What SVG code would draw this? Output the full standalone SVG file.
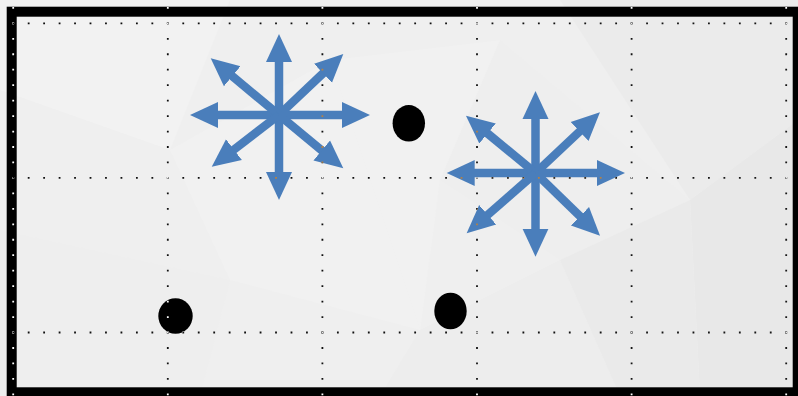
<svg xmlns="http://www.w3.org/2000/svg" width="798" height="396" viewBox="0 0 798 396">
  <defs>
    <style>
      .arrow { stroke: #4a7ebb; stroke-width: 8.5; fill: none; marker-end: url(#head); }
      .dot { fill: #000; }
      .grid { stroke: #fff; stroke-width: 1.8; fill: none; mix-blend-mode: difference; }
      .gh { stroke-dasharray: 1.8 13.66; }
      .bg { stroke: none; }
    </style>
    <marker id="head" markerUnits="userSpaceOnUse" markerWidth="30" markerHeight="28" viewBox="0 -14 30 28" refX="8" refY="0" orient="auto">
      <path d="M0,-13 L28,0 L0,13 Z" fill="#4a7ebb"/>
    </marker>
  </defs>

  <!-- background -->
  <g id="background">
    <rect class="bg" x="0" y="0" width="798" height="396" fill="#efefef"/>
    <polygon class="bg" points="0,0 230,0 170,150 0,90" fill="#f2f2f2"/>
    <polygon class="bg" points="170,150 330,60 420,330 230,280" fill="#f1f1f1"/>
    <polygon class="bg" points="0,230 230,280 200,396 0,396" fill="#eeeeee"/>
    <polygon class="bg" points="420,330 560,260 620,396 380,396" fill="#ededed"/>
    <polygon class="bg" points="560,0 798,0 798,120 690,200" fill="#ebebeb"/>
    <polygon class="bg" points="690,200 798,120 798,396 700,396" fill="#e8e8e8"/>
    <polygon class="bg" points="500,40 690,200 560,260 440,180" fill="#eeeeee"/>
    <polygon class="bg" points="560,260 690,200 700,396 620,396" fill="#eaeaea"/>
    <polygon class="bg" points="330,60 500,40 440,180 420,330" fill="#f1f1f1"/>
  </g>

  <!-- burst 1 -->
  <g id="burst-1">
    <line class="arrow" x1="279" y1="115" x2="279" y2="54"/>
    <line class="arrow" x1="279" y1="115" x2="279" y2="180"/>
    <line class="arrow" x1="279" y1="115" x2="210" y2="115"/>
    <line class="arrow" x1="279" y1="115" x2="350" y2="115"/>
    <line class="arrow" x1="279" y1="115" x2="226.1" y2="71.1"/>
    <line class="arrow" x1="279" y1="115" x2="328.8" y2="67.8"/>
    <line class="arrow" x1="279" y1="115" x2="227.6" y2="154.5"/>
    <line class="arrow" x1="279" y1="115" x2="327.9" y2="155.5"/>
  </g>

  <!-- burst 2 -->
  <g id="burst-2">
    <line class="arrow" x1="535.5" y1="173" x2="535.5" y2="111"/>
    <line class="arrow" x1="535.5" y1="173" x2="535.5" y2="236.7"/>
    <line class="arrow" x1="535.5" y1="173" x2="466.7" y2="173"/>
    <line class="arrow" x1="535.5" y1="173" x2="605" y2="173"/>
    <line class="arrow" x1="535.5" y1="173" x2="481.4" y2="128.4"/>
    <line class="arrow" x1="535.5" y1="173" x2="585.4" y2="126"/>
    <line class="arrow" x1="535.5" y1="173" x2="481.7" y2="220.1"/>
    <line class="arrow" x1="535.5" y1="173" x2="585.7" y2="221.8"/>
  </g>

  <!-- dots -->
  <g id="dot-1"><ellipse class="dot" cx="408.8" cy="123.3" rx="16.2" ry="18.3"/></g>
  <g id="dot-2"><ellipse class="dot" cx="175.5" cy="316" rx="17.2" ry="17.8"/></g>
  <g id="dot-3"><ellipse class="dot" cx="450.5" cy="311" rx="16.2" ry="18.3"/></g>

  <!-- frame -->
  <g id="frame">
    <rect x="11.7" y="11.7" width="786" height="380.6" fill="none" stroke="#000" stroke-width="10"/>
  </g>

  <!-- grid overlay -->
  <g id="grid">
    <line class="grid gh" x1="-3.16" y1="23.3" x2="800" y2="23.3"/>
    <line class="grid gh" x1="-3.16" y1="177.9" x2="800" y2="177.9"/>
    <line class="grid gh" x1="-3.16" y1="332.5" x2="800" y2="332.5"/>
    <line class="grid gh" x1="13.2" y1="-8.5" x2="13.2" y2="400"/>
    <line class="grid gh" x1="167.8" y1="-8.5" x2="167.8" y2="400"/>
    <line class="grid gh" x1="322.4" y1="-8.5" x2="322.4" y2="400"/>
    <line class="grid gh" x1="477" y1="-8.5" x2="477" y2="400"/>
    <line class="grid gh" x1="631.6" y1="-8.5" x2="631.6" y2="400"/>
    <line class="grid gh" x1="786.2" y1="-8.5" x2="786.2" y2="400"/>
  </g>
</svg>
